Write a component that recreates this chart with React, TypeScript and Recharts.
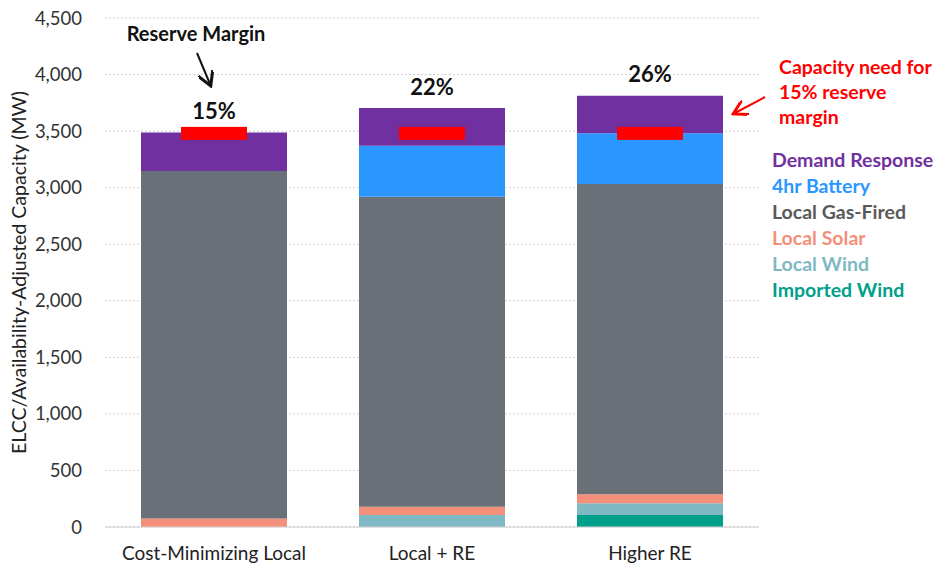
import { ComposedChart, Bar, Scatter, XAxis, YAxis, CartesianGrid, LabelList } from 'recharts';

const categories = ['Cost-Minimizing Local', 'Local + RE', 'Higher RE'];
const importedWind = [0, 0, 105];
const localWind = [0, 105, 105];
const localSolar = [75, 75, 80];
const gasFired = [3072, 2740, 2742];
const battery = [0, 450, 450];
const demandResponse = [340, 335, 330];
const capacityNeed = [3480, 3480, 3480];
const reserveMargins = ['15%', '22%', '26%'];
const yTicks = [0, 500, 1000, 1500, 2000, 2500, 3000, 3500, 4000, 4500];

const series = [
  { key: 'importedWind', name: 'Imported Wind', color: '#00A08A' },
  { key: 'localWind', name: 'Local Wind', color: '#7FB9C3' },
  { key: 'localSolar', name: 'Local Solar', color: '#F4907A' },
  { key: 'gasFired', name: 'Local Gas-Fired', color: '#6A7077' },
  { key: 'battery', name: '4hr Battery', color: '#2B96FF' },
  { key: 'demandResponse', name: 'Demand Response', color: '#7030A0' },
];

const legendTextColors: Record<string, string> = {
  'Demand Response': '#7030A0',
  '4hr Battery': '#2B96FF',
  'Local Gas-Fired': '#595959',
  'Local Solar': '#F4907A',
  'Local Wind': '#7FB9C3',
  'Imported Wind': '#00A08A',
};

const data = categories.map((name, i) => ({
  name,
  importedWind: importedWind[i],
  localWind: localWind[i],
  localSolar: localSolar[i],
  gasFired: gasFired[i],
  battery: battery[i],
  demandResponse: demandResponse[i],
  need: capacityNeed[i],
}));

const FONT = 'Lato, "Open Sans", sans-serif';

function NeedMarker(props: any) {
  const { cx, cy } = props;
  if (cx == null || cy == null) return null;
  return <rect x={cx - 33} y={cy - 6.5} width={66} height={13} fill="#FF0000" />;
}

function MarginLabel(props: any) {
  const { x, y, width, index } = props;
  return (
    <text
      x={x + width / 2}
      y={y - 19}
      textAnchor="middle"
      dominantBaseline="middle"
      fontFamily={FONT}
      fontWeight={700}
      fontSize={22}
      fill="#111"
    >
      {reserveMargins[index]}
    </text>
  );
}

export default function App() {
  return (
    <div style={{ position: 'absolute', left: 0, top: 0, width: 939, height: 567, background: '#fff' }}>
      <ComposedChart
        width={939}
        height={567}
        data={data}
        margin={{ top: 18, right: 180, bottom: 0, left: 35 }}
      >
        <CartesianGrid vertical={false} stroke="#d0d0d0" strokeDasharray="2 2" />
        <XAxis
          dataKey="name"
          height={40}
          tickLine={false}
          axisLine={{ stroke: '#d0d0d0' }}
          tick={{ fontSize: 19, fill: '#222', fontFamily: FONT }}
          tickMargin={14}
        />
        <YAxis
          width={70}
          domain={[0, 4500]}
          ticks={yTicks}
          tickFormatter={(v: number) => v.toLocaleString('en-US')}
          axisLine={false}
          tickLine={false}
          tick={{ fontSize: 18.5, fill: '#333', fontFamily: FONT }}
          tickMargin={17}
          label={{
            value: 'ELCC/Availability-Adjusted Capacity (MW)',
            angle: -90,
            position: 'insideLeft',
            offset: -16,
            style: { textAnchor: 'middle', fontSize: 19.5, fill: '#222', fontFamily: FONT },
          }}
        />
        {series.map((s, i) => (
          <Bar
            key={s.key}
            dataKey={s.key}
            name={s.name}
            stackId="cap"
            fill={s.color}
            barSize={146}
            isAnimationActive={false}
          >
            {i === series.length - 1 && <LabelList dataKey={s.key} content={<MarginLabel />} />}
          </Bar>
        ))}
        <Scatter dataKey="need" shape={<NeedMarker />} isAnimationActive={false} legendType="none" />
      </ComposedChart>
      <div
        style={{
          position: 'absolute',
          left: 772,
          top: 147,
          fontFamily: FONT,
          fontWeight: 700,
          fontSize: 19.5,
          lineHeight: '26px',
          whiteSpace: 'nowrap',
        }}
      >
        {[...series].reverse().map((s) => (
          <div key={s.key} style={{ color: legendTextColors[s.name] }}>
            {s.name}
          </div>
        ))}
      </div>
      <svg
        width={939}
        height={567}
        style={{ position: 'absolute', left: 0, top: 0, pointerEvents: 'none' }}
      >
        <defs>
          <marker id="ahBlack" markerWidth="8" markerHeight="8" refX="6" refY="4" orient="auto">
            <path d="M0,0 L7,4 L0,8" fill="none" stroke="#111" strokeWidth={1.5} />
          </marker>
          <marker id="ahRed" markerWidth="8" markerHeight="8" refX="6" refY="4" orient="auto">
            <path d="M0,0 L7,4 L0,8" fill="none" stroke="#FF0000" strokeWidth={1.5} />
          </marker>
        </defs>
        <text x={196} y={41} textAnchor="middle" fontFamily={FONT} fontWeight={700} fontSize={20} fill="#111">
          Reserve Margin
        </text>
        <line x1={197} y1={53} x2={210} y2={84} stroke="#111" strokeWidth={2} markerEnd="url(#ahBlack)" />
        <text fontFamily={FONT} fontWeight={700} fontSize={19.5} fill="#FF0000">
          <tspan x={779} y={74}>Capacity need for</tspan>
          <tspan x={779} y={99}>15% reserve</tspan>
          <tspan x={779} y={124}>margin</tspan>
        </text>
        <line x1={765} y1={97} x2={735} y2={113} stroke="#FF0000" strokeWidth={2} markerEnd="url(#ahRed)" />
      </svg>
    </div>
  );
}
